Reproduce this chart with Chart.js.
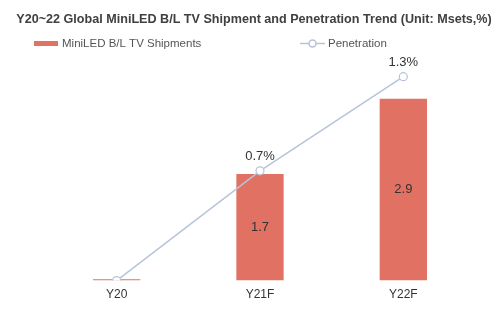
<!DOCTYPE html>
<html>
<head>
<meta charset="utf-8">
<script src="https://cdn.jsdelivr.net/npm/chart.js@4.4.1/dist/chart.umd.min.js"></script>
<style>
html,body{margin:0;padding:0;background:#fff;}
#wrap{width:500px;height:321px;position:relative;}
</style>
</head>
<body>
<div id="wrap"><canvas id="c" width="500" height="321"></canvas></div>
<script>
const titleText = 'Y20~22 Global MiniLED B/L TV Shipment and Penetration Trend (Unit: Msets,%)';
const categories = ['Y20', 'Y21F', 'Y22F'];
const shipments = [0.02, 1.7, 2.9];
const shipmentLabels = ['', '1.7', '2.9'];
const penetration = [0.0, 0.7, 1.3];
const penetrationLabels = ['', '0.7%', '1.3%'];
const seriesNames = ['MiniLED B/L TV Shipments', 'Penetration'];

const barColor = '#e07163';
const lineColor = '#b7c3da';
const textColor = '#333333';

const headerPlugin = {
  id: 'header',
  afterDraw(chart) {
    const ctx = chart.ctx;
    ctx.save();
    ctx.fillStyle = '#404040';
    ctx.font = 'bold 12.6px "Liberation Sans", Arial, sans-serif';
    ctx.textAlign = 'center';
    ctx.textBaseline = 'middle';
    ctx.fillText(titleText, 254, 20);
    // legend
    ctx.font = '11.5px "Liberation Sans", Arial, sans-serif';
    ctx.textAlign = 'left';
    ctx.fillStyle = barColor;
    ctx.fillRect(34, 41, 24, 5);
    ctx.fillStyle = '#555555';
    ctx.fillText(seriesNames[0], 62, 43.5);
    ctx.strokeStyle = lineColor;
    ctx.lineWidth = 1.5;
    ctx.beginPath(); ctx.moveTo(300, 43.5); ctx.lineTo(325, 43.5); ctx.stroke();
    ctx.beginPath(); ctx.arc(312.5, 43.5, 3.5, 0, Math.PI * 2);
    ctx.fillStyle = '#fff'; ctx.fill(); ctx.stroke();
    ctx.fillStyle = '#555555';
    ctx.fillText(seriesNames[1], 328, 43.5);
    ctx.restore();
  }
};

const labelPlugin = {
  id: 'valueLabels',
  afterDatasetsDraw(chart) {
    const ctx = chart.ctx;
    ctx.save();
    ctx.font = '13px "Liberation Sans", Arial, sans-serif';
    ctx.fillStyle = textColor;
    ctx.textAlign = 'center';
    ctx.textBaseline = 'middle';
    const barMeta = chart.getDatasetMeta(0);
    barMeta.data.forEach((el, i) => {
      const t = shipmentLabels[i];
      if (!t) return;
      ctx.fillText(t, el.x, (el.y + el.base) / 2);
    });
    const lineMeta = chart.getDatasetMeta(1);
    lineMeta.data.forEach((el, i) => {
      const t = penetrationLabels[i];
      if (!t) return;
      ctx.fillText(t, el.x, el.y - 14);
    });
    ctx.restore();
  }
};

new Chart(document.getElementById('c'), {
  data: {
    labels: categories,
    datasets: [
      {
        type: 'bar',
        label: seriesNames[0],
        data: shipments,
        backgroundColor: barColor,
        yAxisID: 'y',
        barPercentage: 0.66,
        categoryPercentage: 0.5,
        order: 2
      },
      {
        type: 'line',
        label: seriesNames[1],
        data: penetration,
        borderColor: lineColor,
        borderWidth: 1.5,
        pointRadius: 4,
        pointBackgroundColor: '#ffffff',
        pointBorderColor: lineColor,
        pointBorderWidth: 1.2,
        yAxisID: 'y1',
        tension: 0,
        order: 1
      }
    ]
  },
  options: {
    responsive: false,
    animation: false,
    layout: { padding: { top: 61, left: 45, right: 25, bottom: 12 } },
    plugins: {
      legend: { display: false },
      title: { display: false },
      tooltip: { enabled: false }
    },
    scales: {
      x: {
        grid: { display: false, drawTicks: false },
        border: { display: false },
        ticks: { color: textColor, font: { size: 12, family: '"Liberation Sans", Arial, sans-serif' }, padding: 7 }
      },
      y: {
        display: false,
        min: 0,
        max: 3.5
      },
      y1: {
        display: false,
        min: 0,
        max: 1.4
      }
    }
  },
  plugins: [headerPlugin, labelPlugin]
});
</script>
</body>
</html>
